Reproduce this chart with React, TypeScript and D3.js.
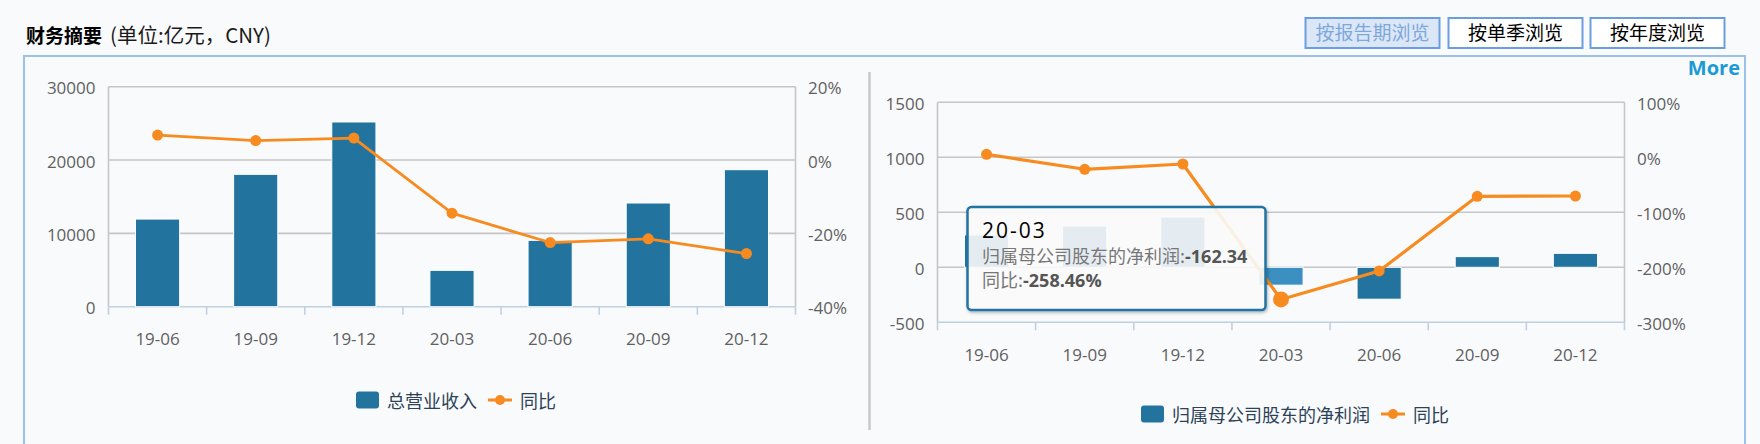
import React from 'react';
import * as d3 from 'd3';

const categories = ['19-06', '19-09', '19-12', '20-03', '20-06', '20-09', '20-12'];
const revenue = [11950, 18050, 25190, 4960, 9050, 14140, 18680];
const revenueYoY = [6.8, 5.3, 6.0, -14.5, -22.5, -21.5, -25.5];
const netProfit = [294, 375, 457, -162.34, -290, 97, 127];
const netProfitYoY = [5.5, -21.8, -12.2, -258.46, -206.7, -71, -70.4];

const leftTicks = [0, 10000, 20000, 30000];
const leftPctTicks = [-40, -20, 0, 20];
const rightTicks = [-500, 0, 500, 1000, 1500];
const rightPctTicks = [-300, -200, -100, 0, 100];

const buttons = ['按报告期浏览', '按单季浏览', '按年度浏览'];

const BAR = '#22749f';
const BAR_HOVER = '#3b8fc1';
const ORANGE = '#f78b1f';
const GRID = '#c6c6c6';
const AXIS = '#c0d0e0';
const LABEL = '#606060';
const LEGEND = '#2d4257';
const FONT = "'Open Sans','Noto Sans CJK SC',sans-serif";
const CJK = "'Noto Sans CJK SC',sans-serif";

type Panel = {
  x0: number; x1: number; y0: number; y1: number;
  dom: [number, number]; pdom: [number, number];
  ticks: number[]; pticks: number[];
  bars: number[]; line: number[];
  legendName: string; legendX: number; legendY: number;
  hover?: number; lineW: number; dotR: number;
};

function Chart({ p }: { p: Panel }) {
  const x = d3.scaleBand<string>().domain(categories).range([p.x0, p.x1]);
  const y = d3.scaleLinear().domain(p.dom).range([p.y1, p.y0]);
  const yp = d3.scaleLinear().domain(p.pdom).range([p.y1, p.y0]);
  const bw = x.bandwidth() * 0.45;
  const cx = (c: string) => (x(c) as number) + x.bandwidth() / 2;
  const lineGen = d3.line<number>().x((_, i) => cx(categories[i])).y((v) => yp(v));
  const edges = categories.map((c) => x(c) as number).concat([p.x1]);
  const lx = p.legendX;
  const ly = p.legendY;
  const nameEnd = lx + 31 + p.legendName.length * 18;
  return (
    <g>
      {p.ticks.map((t) => (
        <line key={'g' + t} x1={p.x0} x2={p.x1} y1={y(t)} y2={y(t)}
          stroke={t === p.dom[0] ? 'none' : GRID} strokeWidth={1.6} />
      ))}
      <line x1={p.x0} x2={p.x0} y1={p.y0} y2={p.y1} stroke={GRID} strokeWidth={1.6} />
      <line x1={p.x1} x2={p.x1} y1={p.y0} y2={p.y1} stroke={GRID} strokeWidth={1.6} />
      <line x1={p.x0} x2={p.x1} y1={p.y1} y2={p.y1} stroke={AXIS} strokeWidth={1.6} />
      {edges.map((e, i) => (
        <line key={'t' + i} x1={e} x2={e} y1={p.y1} y2={p.y1 + 8} stroke={AXIS} strokeWidth={1.6} />
      ))}
      {p.ticks.map((t) => (
        <text key={'l' + t} x={p.x0 - 13} y={y(t) + 7.5} textAnchor="end" fontSize={17}
          fill={LABEL} fontFamily={FONT}>{t}</text>
      ))}
      {p.pticks.map((t) => (
        <text key={'r' + t} x={p.x1 + 12.5} y={yp(t) + 7.5} textAnchor="start" fontSize={17}
          fill={LABEL} fontFamily={FONT}>{t + '%'}</text>
      ))}
      {categories.map((c) => (
        <text key={'x' + c} x={cx(c)} y={p.y1 + 38.5} textAnchor="middle" fontSize={17}
          fill={LABEL} fontFamily={FONT}>{c}</text>
      ))}
      {p.bars.map((v, i) => {
        const top = Math.min(y(v), y(0));
        const h = Math.abs(y(v) - y(0));
        return (
          <rect key={'b' + i} x={cx(categories[i]) - bw / 2} y={top} width={bw} height={h}
            fill={p.hover === i ? BAR_HOVER : BAR} stroke="#ffffff" strokeWidth={1} />
        );
      })}
      <path d={lineGen(p.line) || ''} fill="none" stroke={ORANGE} strokeWidth={p.lineW}
        strokeLinejoin="round" />
      {p.line.map((v, i) => (
        <circle key={'d' + i} cx={cx(categories[i])} cy={yp(v)}
          r={p.hover === i ? 8 : p.dotR} fill={ORANGE} />
      ))}
      <rect x={lx} y={ly - 8.5} width={23} height={17} rx={3} fill={BAR} />
      <text x={lx + 31} y={ly + 7.5} fontSize={18} fill={LEGEND} fontFamily={CJK}>{p.legendName}</text>
      <line x1={nameEnd + 11} x2={nameEnd + 35} y1={ly} y2={ly} stroke={ORANGE} strokeWidth={3} />
      <circle cx={nameEnd + 23} cy={ly} r={5} fill={ORANGE} />
      <text x={nameEnd + 43} y={ly + 7.5} fontSize={18} fill={LEGEND} fontFamily={CJK}>同比</text>
    </g>
  );
}

export default function App() {
  const left: Panel = {
    x0: 108.5, x1: 795.5, y0: 86.7, y1: 306.7,
    dom: [0, 30000], pdom: [-40, 20], ticks: leftTicks, pticks: leftPctTicks,
    bars: revenue, line: revenueYoY, legendName: '总营业收入', legendX: 356, legendY: 400,
    lineW: 2.8, dotR: 5.5,
  };
  const right: Panel = {
    x0: 937.5, x1: 1624.5, y0: 102.3, y1: 322.3,
    dom: [-500, 1500], pdom: [-300, 100], ticks: rightTicks, pticks: rightPctTicks,
    bars: netProfit, line: netProfitYoY, legendName: '归属母公司股东的净利润', legendX: 1141, legendY: 414,
    hover: 3, lineW: 3.2, dotR: 5.5,
  };
  const btnX = [1305.5, 1448.5, 1590.5];
  const btnW = 134;
  return (
    <div style={{ position: 'absolute', left: 0, top: 0 }}>
      <svg width={1760} height={444} style={{ display: 'block' }}>
        <defs>
          <filter id="shadow" x="-10%" y="-10%" width="120%" height="130%">
            <feDropShadow dx={1} dy={1.5} stdDeviation={1.5} floodColor="#000" floodOpacity={0.3} />
          </filter>
        </defs>
        <rect x={0} y={0} width={1760} height={444} fill="#f9fafc" />
        <text x={26} y={43} fontSize={19} fontWeight="bold" fill="#000" fontFamily={CJK}>财务摘要</text>
        <text x={110} y={43} fontSize={20.5} fill="#1a1a1a" fontFamily={CJK}>(单位:亿元，CNY)</text>
        {buttons.map((b, i) => (
          <g key={b}>
            <rect x={btnX[i]} y={18} width={btnW} height={30}
              fill={i === 0 ? '#dbe7f7' : '#ffffff'} stroke="#6a9edf" strokeWidth={2} />
            <text x={btnX[i] + btnW / 2} y={40} textAnchor="middle" fontSize={19}
              fill={i === 0 ? '#7ea7dc' : '#000'} fontFamily={CJK}>{b}</text>
          </g>
        ))}
        <rect x={24} y={56} width={1721} height={420} fill="none" stroke="#9cc0ea" strokeWidth={2} />
        <text x={1740} y={75} textAnchor="end" fontSize={20} fontWeight="bold" fill="#1b9ad6"
          fontFamily={FONT}>More</text>
        <line x1={869.5} x2={869.5} y1={72} y2={430} stroke="#c8c8c8" strokeWidth={2.5} />
        <Chart p={left} />
        <Chart p={right} />
        <g>
          <rect x={967.5} y={207} width={298} height={103} rx={4} fill="rgba(255,255,255,0.86)"
            stroke="#2374a2" strokeWidth={2.5} filter="url(#shadow)" />
          <text x={982} y={238} fontSize={21} fill="#000" fontFamily={FONT} letterSpacing={2}>{categories[3]}</text>
          <text x={982} y={263} fontSize={18} fill="#777" fontFamily={CJK}>
            归属母公司股东的净利润:<tspan fontWeight="bold" fill="#555" fontFamily={FONT}>{netProfit[3].toFixed(2)}</tspan>
          </text>
          <text x={982} y={287} fontSize={18} fill="#777" fontFamily={CJK}>
            同比:<tspan fontWeight="bold" fill="#555" fontFamily={FONT}>{netProfitYoY[3].toFixed(2) + '%'}</tspan>
          </text>
        </g>
      </svg>
    </div>
  );
}
